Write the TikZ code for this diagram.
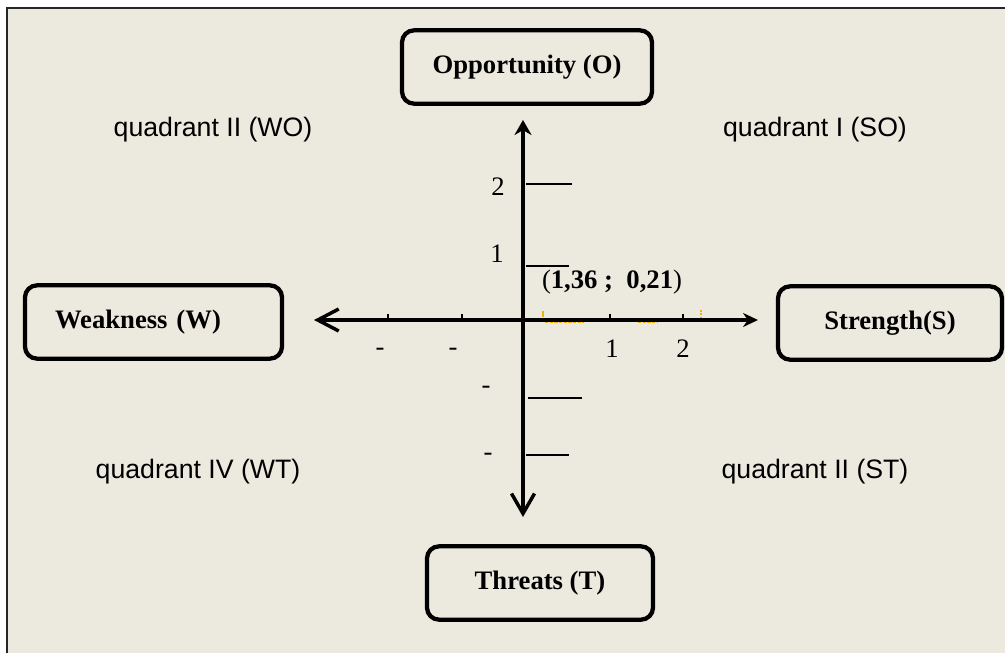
\documentclass[tikz,border=0pt]{standalone}
\usepackage{fontspec}
\setmainfont{Liberation Serif}
\newfontfamily\quadfont{Liberation Sans}
\usetikzlibrary{arrows.meta,positioning}
\definecolor{paper}{RGB}{236,233,223}
\definecolor{tickorange}{RGB}{240,180,0}
\tikzset{
    x=0.75pt,y=-0.75pt,semithick,
    swotbox/.style ={rectangle, draw, rounded corners=9pt, line width=3.2pt, minimum width=#1, minimum height=55pt, font=\fontsize{20}{24}\selectfont\bfseries},
    swotbox/.default=150pt,
    axisline/.style = {line width=2.6pt},
    axistick/.style = {line width=1.5pt},
    orangemark/.style = {tickorange, line width=1.2pt},
    numlabel/.style = {anchor=base, inner sep=0pt, font=\fontsize{20}{24}\selectfont},
    quadlabel/.style = {font=\quadfont\fontsize{20}{24}\selectfont},
    outerframe/.style = {line width=1.5pt, black!85}
}
\begin{document}
\begin{tikzpicture}
    \useasboundingbox (0,0) rectangle (1005,653);
    \fill[white] (0,0) rectangle (1005,653);
    \fill[paper] (7,8) rectangle (1005,653);
    \draw[outerframe] (7,653) -- (7,8) -- (1005,8);

    % the four boxes
    \node[swotbox=187.5pt] (O) at (527,67) {Opportunity (O)};
    \node[swotbox=168pt] (S) at (890,323) {Strength(S)};
    \node[swotbox=169.5pt] (T) at (540,583) {Threats (T)};
    \node[swotbox=0pt, text width=147.75pt, align=left, inner xsep=22.5pt] (W) at (153.5,322) {Weakness (W)};

    % axes
    \coordinate (origin) at (523,320);
    \coordinate (Wend) at (314,320);
    \coordinate (Send) at (758,320);
    \coordinate (Oend) at (523,120);
    \coordinate (Tend) at (523,517);
    \draw[axisline, {Straight Barb[length=15.75pt,width=16.5pt]}-{Stealth[length=11.25pt,width=10.5pt]}] (Wend) -- (Send);
    \draw[axisline, {Straight Barb[length=15pt,width=17.25pt]}-{Stealth[length=11.25pt,width=12.75pt]}] (Tend) -- (Oend);

    \foreach \x in {388,462,610,683}
        \draw[axistick] (\x,320) -- (\x,314);
    \foreach \s/\y/\e in {526/184/572, 526/266/569, 528/398/582, 526/455/569}
        \draw[axistick] (\s,\y) -- (\e,\y);

    \draw[orangemark] (543,311) -- (543,317);
    \draw[orangemark, dash pattern=on 2.5pt off 1pt] (545,322.5) -- (584,322.5);
    \draw[orangemark, dash pattern=on 2.5pt off 1pt] (638,322.5) -- (658,322.5);
    \draw[orangemark, dash pattern=on 1.5pt off 1pt] (701,310) -- (701,317);

    % scale numbers
    \node[numlabel] (y2) at (498,195) {2};
    \node[numlabel] (y1) at (497,262) {1};
    \node[numlabel] (ym1) at (486,393) {-};
    \node[numlabel] (ym2) at (488,460) {-};
    \node[numlabel] (x1) at (612,357) {1};
    \node[numlabel] (x2) at (683,357) {2};
    \node[numlabel] (xm1) at (380,355) {-};
    \node[numlabel] (xm2) at (453,355) {-};

    \node[font=\fontsize{20}{24}\selectfont] (P) at (612,282) {(\textbf{1,36 ;\ \ 0,21})};

    % quadrants
    \node[quadlabel] (q2) at (213,130) {quadrant II (WO)};
    \node[quadlabel] (q1) at (815,130) {quadrant I (SO)};
    \node[quadlabel] (q4) at (198,472) {quadrant IV (WT)};
    \node[quadlabel] (q3) at (815,472) {quadrant II (ST)};
\end{tikzpicture}
\end{document}
